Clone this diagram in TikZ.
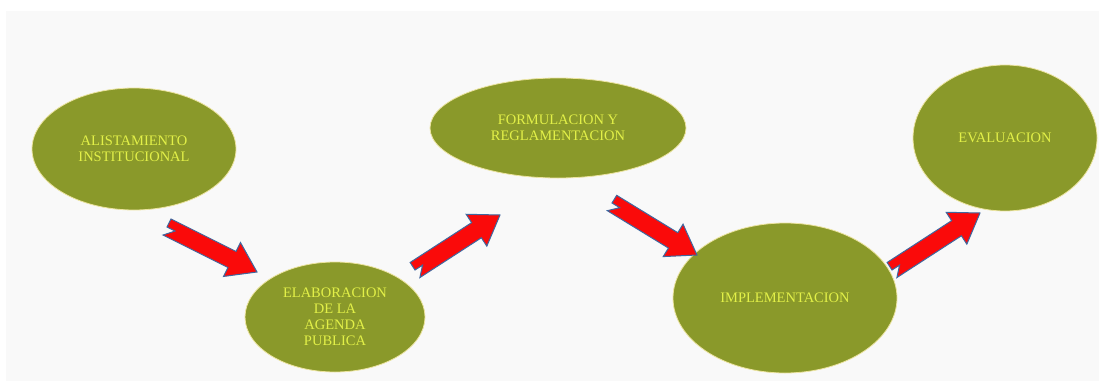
\documentclass[tikz,border=0pt]{standalone}
\usepackage{fontspec}
\setmainfont{Liberation Serif}
\usepackage{tikz}
\usetikzlibrary{shapes,positioning,calc}

\definecolor{oliva}{RGB}{138,153,42}
\definecolor{letra}{RGB}{226,240,72}
\definecolor{borde}{RGB}{236,228,160}
\definecolor{rojo}{RGB}{250,10,10}
\definecolor{azul}{RGB}{62,104,160}
\definecolor{fondo}{RGB}{249,249,249}

% flecha gruesa con muesca, de #1 a #2
\newcommand\flecha[2]{%
\coordinate (hb) at ($(#2)!28pt!(#1)$);
\coordinate (nt) at ($(#1)!9pt!(#2)$);
\filldraw[fatarrow] (#1) -- ($(#1)!9pt!90:(#2)$) -- ($(hb)!9pt!-90:(#1)$)
 -- ($(hb)!19pt!-90:(#1)$) -- (#2) -- ($(hb)!19pt!90:(#1)$)
 -- ($(hb)!9pt!90:(#1)$) -- ($(#1)!9pt!-90:(#2)$) -- (nt) -- cycle;
}

\begin{document}
\begin{tikzpicture}[x=1pt,y=1pt,
stage/.style={
% The shape:
ellipse,
% The border:
draw=borde, line width=0.8pt,
% The filling:
fill=oliva,
% Font
text=letra, font=\fontsize{14.5}{16}\selectfont,
align=center, inner sep=0pt
},
fatarrow/.style={
% The filling:
fill=rojo,
% The border:
draw=azul, line width=1pt, line join=miter
}]

\fill[white] (0,0) rectangle (1099,381);
\fill[fondo] (6,0) rectangle (1099,370);
\useasboundingbox (0,0) rectangle (1099,381);

\node (alist) [stage, minimum width=204pt, minimum height=122pt] at (134,232) {ALISTAMIENTO\\INSTITUCIONAL};
\node (elab) [stage, minimum width=180pt, minimum height=110pt] at (335,64) {ELABORACION\\DE LA\\AGENDA\\PUBLICA};
\node (form) [stage, minimum width=256pt, minimum height=100pt] at (558,253) {FORMULACION Y\\REGLAMENTACION};
\node (impl) [stage, minimum width=224pt, minimum height=150pt] at (785,83) {IMPLEMENTACION};
\node (eval) [stage, minimum width=184pt, minimum height=146pt] at (1005,243) {EVALUACION};

\coordinate (a1s) at (167,154);
\coordinate (a1e) at (257,109);
\coordinate (a2s) at (415,111);
\coordinate (a2e) at (500,166);
\coordinate (a3s) at (612,178);
\coordinate (a3e) at (697,126);
\coordinate (a4s) at (892,111);
\coordinate (a4e) at (980,168);

\flecha{a1s}{a1e}
\flecha{a2s}{a2e}
\flecha{a3s}{a3e}
\flecha{a4s}{a4e}
\end{tikzpicture}
\end{document}
